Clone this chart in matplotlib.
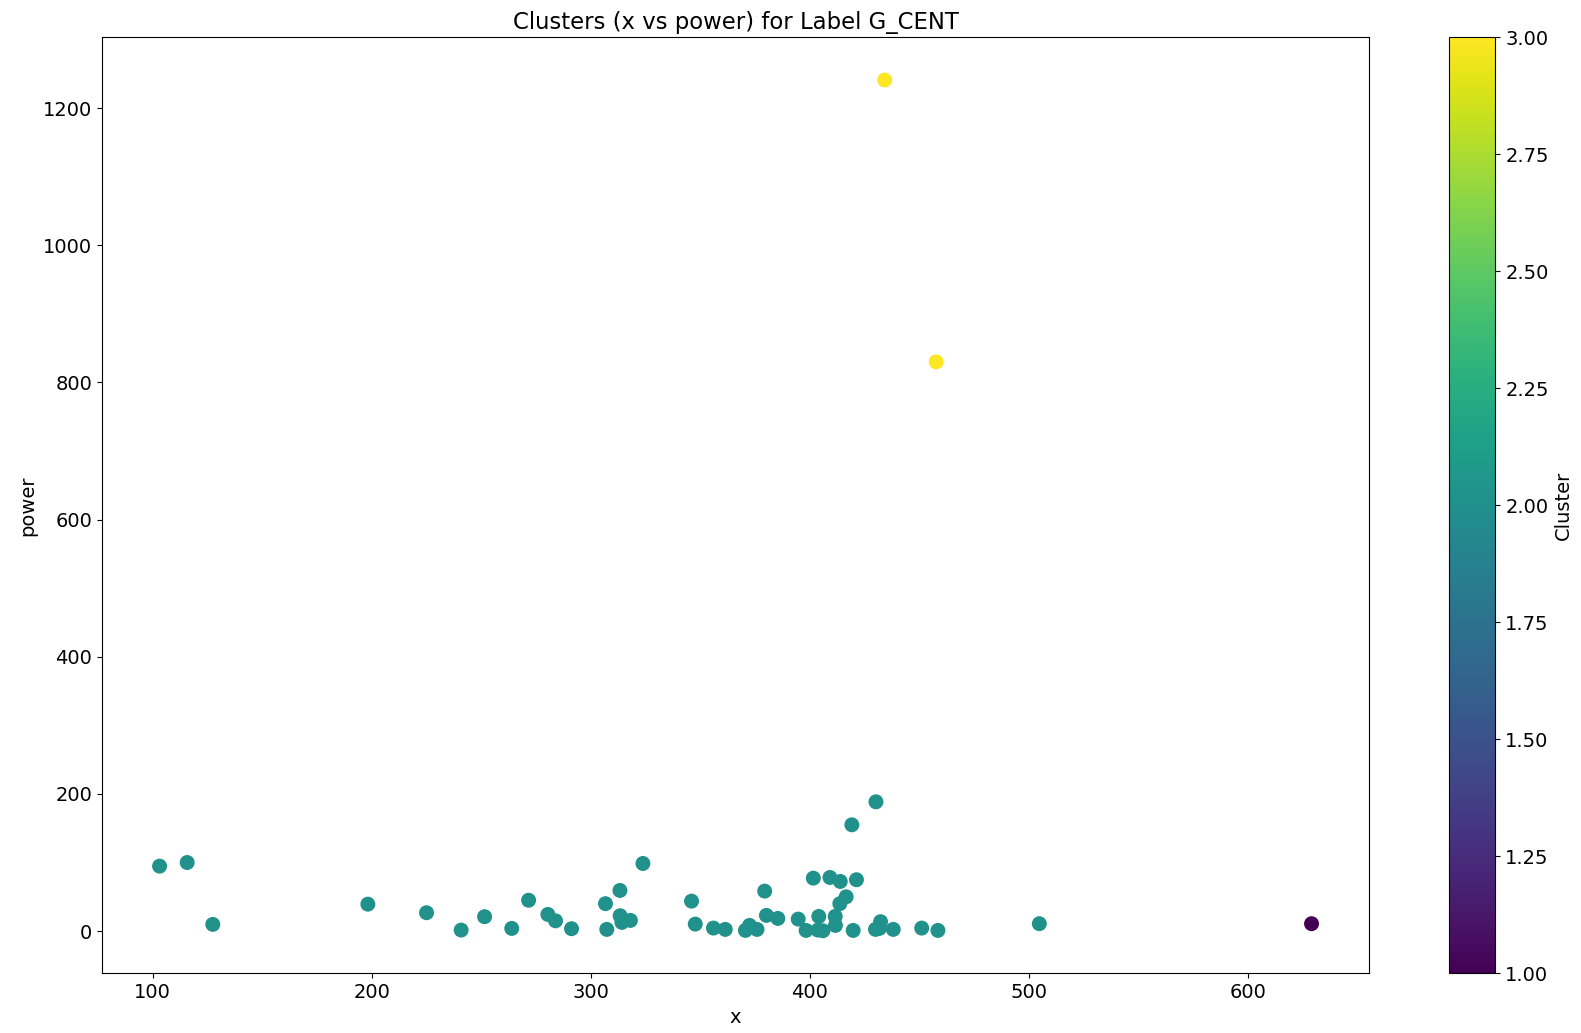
import matplotlib
matplotlib.use("Agg")
import matplotlib.pyplot as plt
import numpy as np

# points
x = [103.1, 115.7, 127.4, 198.2, 225.0, 240.8, 251.5, 263.9, 271.6, 280.4,
     283.9, 291.2, 306.7, 307.3, 313.3, 313.4, 314.2, 318.1, 323.8, 346.0,
     347.7, 356.0, 361.4, 370.6, 372.5, 375.9, 379.4, 380.2, 385.4, 394.7,
     398.3, 401.6, 404.1, 403.7, 406.0, 409.2, 411.6, 411.7, 413.9, 413.7,
     416.6, 419.2, 419.8, 421.3, 430.2, 430.0, 432.3, 431.8, 438.1, 451.1,
     458.5, 504.8, 629.1, 434.2, 457.7]
power = [94.7, 100.0, 9.8, 39.3, 26.8, 1.5, 21.0, 3.9, 45.0, 24.3,
         15.0, 3.5, 40.0, 2.5, 59.3, 22.4, 12.7, 15.6, 98.6, 43.7,
         10.2, 4.4, 2.5, 1.0, 8.3, 2.5, 58.3, 22.9, 18.5, 17.5,
         1.0, 77.2, 21.4, 1.5, 0.5, 78.2, 21.4, 8.3, 72.4, 40.0,
         50.0, 155.0, 1.0, 74.9, 188.5, 2.5, 13.7, 4.0, 2.5, 4.4,
         1.0, 10.8, 10.8, 1241.0, 830.0]
cluster = [2] * 52 + [1] + [3, 3]

fig = plt.figure(figsize=(15.81, 10.33), dpi=100)
ax = fig.add_axes([0.0645, 0.0578, 0.8015, 0.9059])
cax = fig.add_axes([0.9165, 0.0578, 0.0294, 0.9059])

sc = ax.scatter(x, power, c=cluster, cmap="viridis", vmin=1, vmax=3, s=95)
ax.set_title("Clusters (x vs power) for Label G_CENT", fontsize=16.4)
ax.set_xlabel("x", fontsize=14)
ax.set_ylabel("power", fontsize=14)
ax.tick_params(labelsize=14)

cb = fig.colorbar(sc, cax=cax)
cb.set_label("Cluster", fontsize=14)
cb.ax.tick_params(labelsize=14)

fig.savefig("out.png", dpi=100)
